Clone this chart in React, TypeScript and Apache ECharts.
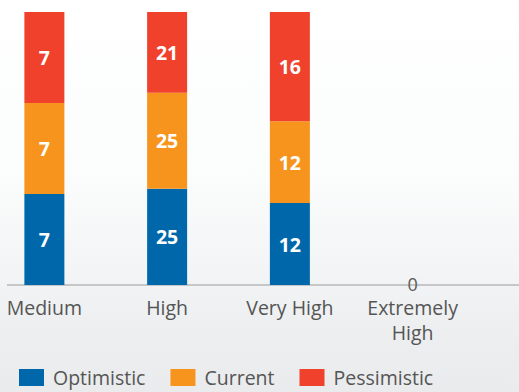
import React, { useEffect, useRef } from "react";
import * as echarts from "echarts";

const categories = ["Medium", "High", "Very High", "Extremely High"];
const optimistic = [7, 25, 12, 0];
const current = [7, 25, 12, 0];
const pessimistic = [7, 21, 16, 0];

const seriesDefs = [
  { name: "Optimistic", values: optimistic, color: "#0068AA" },
  { name: "Current", values: current, color: "#F7941E" },
  { name: "Pessimistic", values: pessimistic, color: "#EF412B" },
];

const FONT = "'Open Sans', 'Noto Sans', sans-serif";
// the chart canvas is a little wider than the frame and shifted left,
// so the first category band starts just past the frame's left edge
const SHIFT = 17;

export default function App() {
  const ref = useRef<HTMLDivElement>(null);

  useEffect(() => {
    document.body.style.margin = "0";
    if (!ref.current) return;
    const chart = echarts.init(ref.current, null, { renderer: "svg" });

    const totals = categories.map((_, i) =>
      seriesDefs.reduce((s, d) => s + d.values[i], 0)
    );

    const series = seriesDefs.map((d, si) => ({
      name: d.name,
      type: "bar",
      stack: "share",
      barWidth: 40,
      itemStyle: { color: d.color },
      label: {
        show: true,
        position: "inside",
        color: "#ffffff",
        fontFamily: FONT,
        fontWeight: "bold",
        fontSize: 19.5,
        formatter: (p: any) => String(p.data.raw),
      },
      data: d.values.map((v, i) => {
        const total = totals[i];
        const item: any = { value: total ? (v / total) * 100 : 0, raw: v };
        if (!total) {
          item.label =
            si === seriesDefs.length - 1
              ? {
                  show: true,
                  color: "#5a5a5a",
                  fontWeight: "normal",
                  fontSize: 18,
                  lineHeight: 14,
                  offset: [0, -1],
                }
              : { show: false };
        }
        return item;
      }),
    }));

    chart.setOption({
      animation: false,
      grid: { left: 0, right: 45, top: 12, bottom: 107, containLabel: false },
      xAxis: {
        type: "category",
        data: categories,
        axisLine: { show: false },
        axisTick: { show: false },
        axisLabel: {
          interval: 0,
          color: "#555555",
          fontFamily: FONT,
          fontSize: 19.5,
          lineHeight: 25,
          margin: 10,
          formatter: (v: string) => (v.length > 10 ? v.split(" ").join("\n") : v),
        },
      },
      yAxis: { type: "value", min: 0, max: 100, show: false },
      legend: {
        left: 19 + SHIFT,
        top: 367,
        padding: 0,
        itemWidth: 25,
        itemHeight: 17,
        itemGap: 25,
        icon: "rect",
        textStyle: {
          color: "#555555",
          fontFamily: FONT,
          fontSize: 19.5,
          lineHeight: 21,
          padding: [0, 0, 0, 4],
        },
        data: seriesDefs.map((d) => d.name),
      },
      graphic: [
        {
          type: "line",
          z: 0,
          shape: { x1: 7 + SHIFT, y1: 285, x2: 519 + SHIFT, y2: 285 },
          style: { stroke: "#9a9a9a", lineWidth: 1 },
        },
      ],
      series,
    });

    return () => chart.dispose();
  }, []);

  return (
    <div
      style={{
        position: "relative",
        overflow: "hidden",
        width: 519,
        height: 392,
        background:
          "linear-gradient(180deg, #ffffff 0%, #fbfcfc 45%, #f2f4f5 70%, #eceeef 85%, #e9ebec 100%)",
      }}
    >
      <div
        ref={ref}
        style={{ position: "absolute", left: -SHIFT, top: 0, width: 519 + SHIFT, height: 392 }}
      />
    </div>
  );
}
